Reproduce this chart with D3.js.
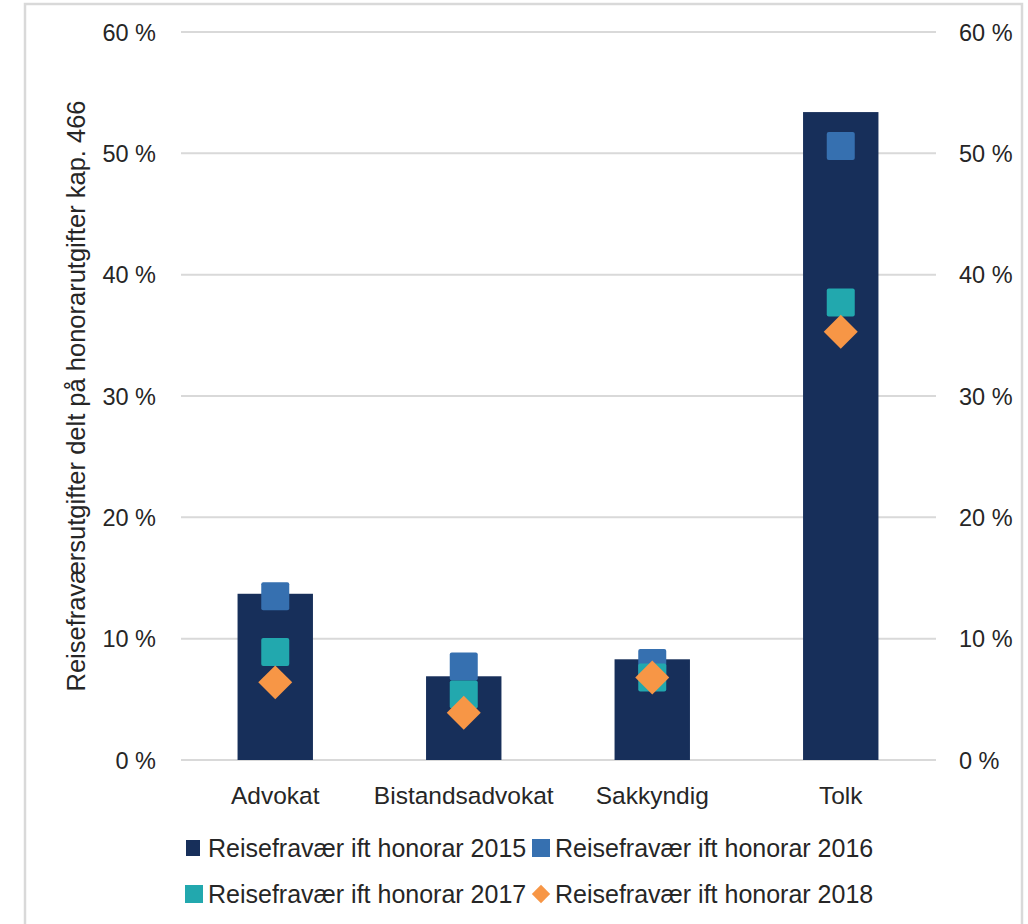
<!DOCTYPE html>
<html><head><meta charset="utf-8">
<script src="https://cdn.jsdelivr.net/npm/d3@7"></script>
<style>
html,body{margin:0;padding:0;background:#fff;}
text{font-family:"Liberation Sans",Arial,sans-serif;fill:#262626;}
</style></head>
<body>
<svg id="c" width="1028" height="924"></svg>
<script>
const categories = ["Advokat", "Bistandsadvokat", "Sakkyndig", "Tolk"];
const values2015 = [0.137, 0.069, 0.083, 0.534];
const values2016 = [0.135, 0.077, 0.080, 0.506];
const values2017 = [0.089, 0.054, 0.068, 0.377];
const values2018 = [0.064, 0.039, 0.068, 0.353];
const yTicks = [0, 0.1, 0.2, 0.3, 0.4, 0.5, 0.6];
const seriesNames = ["Reisefravær ift honorar 2015", "Reisefravær ift honorar 2016", "Reisefravær ift honorar 2017", "Reisefravær ift honorar 2018"];
const yTitle = "Reisefraværsutgifter delt på honorarutgifter kap. 466";

const colors = ["#172f5a", "#3670b0", "#22a8ae", "#f79646"];

const svg = d3.select("#c");
// frame
svg.append("rect").attr("x", 25).attr("y", 4).attr("width", 997).attr("height", 940)
  .attr("fill", "none").attr("stroke", "#d9d9d9").attr("stroke-width", 2.5);

const x = d3.scaleBand().domain(categories).range([181, 935]).padding(0);
const y = d3.scaleLinear().domain([0, 0.6]).range([760, 32]);
const fmt = d => Math.round(d * 100) + " %";

// gridlines
svg.append("g").selectAll("line").data(yTicks).join("line")
  .attr("x1", 181).attr("x2", 936)
  .attr("y1", d => y(d)).attr("y2", d => y(d))
  .attr("stroke", "#d9d9d9").attr("stroke-width", 2);

// left axis
const la = svg.append("g").attr("transform", "translate(156,0)")
  .call(d3.axisLeft(y).tickValues(yTicks).tickFormat(fmt).tickSize(0).tickPadding(0));
la.select(".domain").remove();
la.selectAll("text").style("font-size", "23.5px").attr("dy", "0.35em").attr("text-anchor", "end");

// right axis
const ra = svg.append("g").attr("transform", "translate(959,0)")
  .call(d3.axisRight(y).tickValues(yTicks).tickFormat(fmt).tickSize(0).tickPadding(0));
ra.select(".domain").remove();
ra.selectAll("text").style("font-size", "23.5px").attr("dy", "0.35em").attr("text-anchor", "start");

// x axis labels
const xa = svg.append("g").attr("transform", "translate(0,760)")
  .call(d3.axisBottom(x).tickSize(0).tickPadding(35));
xa.select(".domain").remove();
xa.selectAll("text").style("font-size", "24.5px").attr("dy", "0.35em");

// y title
svg.append("text").attr("transform", "translate(76,396) rotate(-90)")
  .attr("text-anchor", "middle").attr("dy", "0.35em").style("font-size", "25.5px").text(yTitle);

// bars 2015
const bw = x.bandwidth() * 0.4;
svg.append("g").selectAll("rect").data(categories).join("rect")
  .attr("x", d => x(d) + x.bandwidth() / 2 - bw / 2)
  .attr("width", bw)
  .attr("y", (d, i) => y(values2015[i]))
  .attr("height", (d, i) => y(0) - y(values2015[i]))
  .attr("fill", colors[0]);

const sq = 28;
function squares(vals, color) {
  svg.append("g").selectAll("rect").data(categories).join("rect")
    .attr("x", d => x(d) + x.bandwidth() / 2 - sq / 2)
    .attr("y", (d, i) => y(vals[i]) - sq / 2)
    .attr("width", sq).attr("height", sq).attr("rx", 2)
    .attr("fill", color);
}
squares(values2016, colors[1]);
squares(values2017, colors[2]);

const diamond = d3.symbol().type(d3.symbolSquare).size(24 * 24);
svg.append("g").selectAll("path").data(categories).join("path")
  .attr("d", diamond)
  .attr("transform", (d, i) => `translate(${x(d) + x.bandwidth() / 2},${y(values2018[i])}) rotate(45)`)
  .attr("fill", colors[3]);

// legend
const legendPos = [[185, 848], [532, 848], [185, 894], [532, 894]];
const lg = svg.append("g");
seriesNames.forEach((name, i) => {
  const [lx, ly] = legendPos[i];
  if (i === 0) {
    lg.append("rect").attr("x", lx + 1).attr("y", ly - 8).attr("width", 14).attr("height", 16).attr("fill", colors[0]);
  } else if (i === 3) {
    lg.append("path").attr("d", d3.symbol().type(d3.symbolSquare).size(13 * 13))
      .attr("transform", `translate(${lx + 9},${ly}) rotate(45)`).attr("fill", colors[3]);
  } else {
    lg.append("rect").attr("x", lx).attr("y", ly - 9).attr("width", 18).attr("height", 18).attr("fill", colors[i]);
  }
  lg.append("text").attr("x", lx + 23).attr("y", ly).attr("dy", "0.35em")
    .style("font-size", "25px").text(name);
});
</script>
</body></html>
